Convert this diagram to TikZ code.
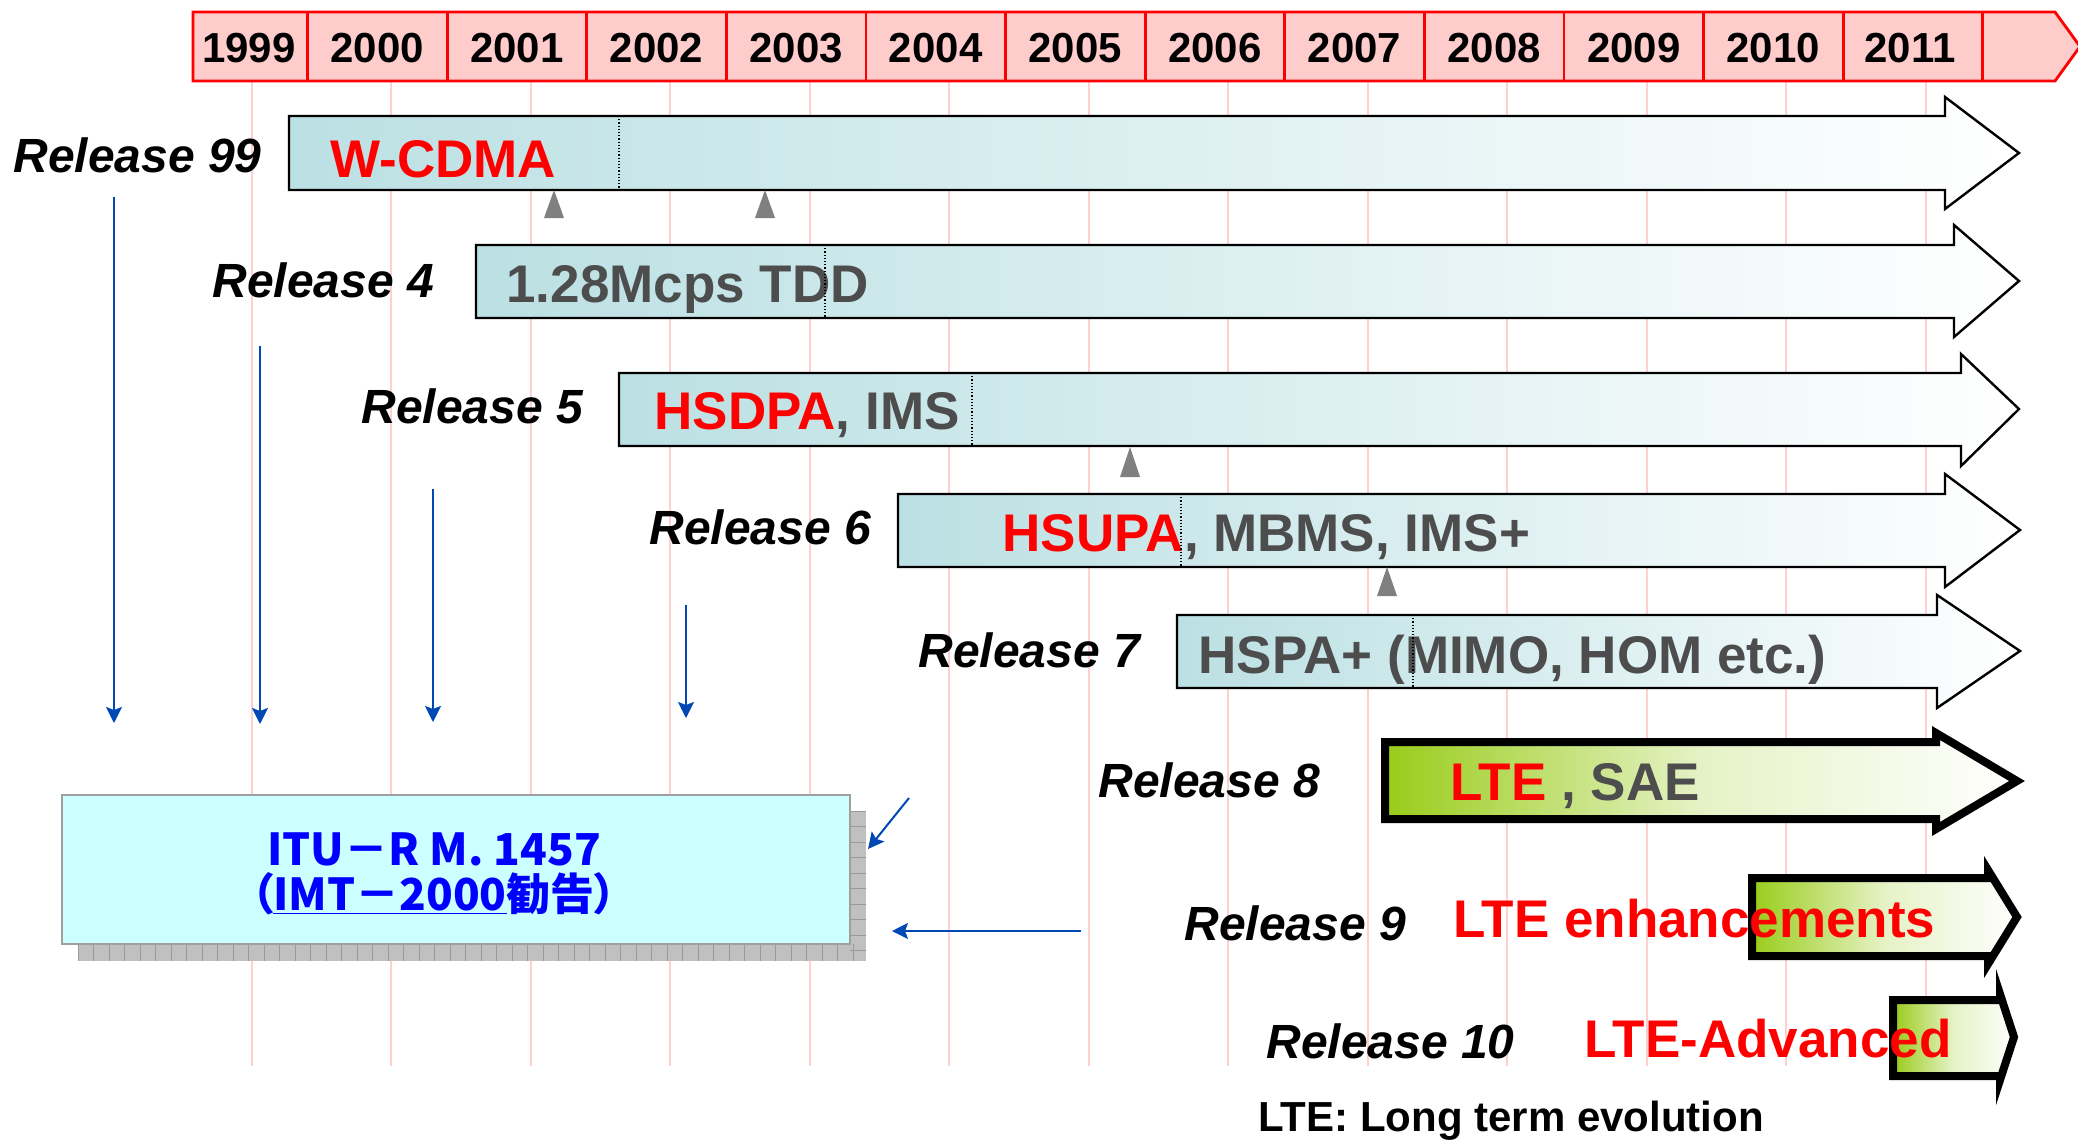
\documentclass[tikz,border=0pt]{standalone}
\usepackage{fontspec}
\setmainfont{Liberation Sans}
\newfontfamily\jpfont[RawFeature=+palt]{Noto Sans CJK JP}
\usetikzlibrary{arrows.meta, positioning, calc}
\definecolor{yearpink}{RGB}{255, 204, 204}
\definecolor{gridpink}{RGB}{255, 208, 208}
\definecolor{relteal}{RGB}{187, 224, 227}
\definecolor{ltegreen}{RGB}{153, 204, 26}
\definecolor{featgray}{RGB}{77, 77, 77}
\definecolor{itublue}{RGB}{0, 0, 255}
\definecolor{linkblue}{RGB}{0, 72, 180}
\definecolor{itucyan}{RGB}{204, 255, 255}
\definecolor{shadowgray}{RGB}{192, 192, 192}
\tikzset{
    yearband/.style={draw=red, line width=1.4pt, fill=yearpink},
    yeardiv/.style={red, line width=1.4pt},
    yeartext/.style={anchor=base, inner sep=0pt, font=\fontsize{21}{24}\selectfont\bfseries},
    gridline/.style={gridpink, line width=1pt},
    relarrow/.style={draw=black, line width=1.2pt, left color=relteal, right color=white},
    ltearrow/.style={draw=black, line width=4pt, left color=ltegreen, right color=white, middle color=ltegreen!25},
    rellabel/.style={anchor=base west, inner sep=0pt, font=\fontsize{24}{28}\selectfont\bfseries\itshape},
    feattext/.style={anchor=base west, inner sep=0pt, text=featgray, font=\fontsize{26.5}{30}\selectfont\bfseries},
    splitline/.style={densely dotted, line width=0.6pt},
    upmark/.style={fill=gray},
    itubox/.style={rectangle, draw=gray!75, line width=1pt, fill=itucyan,
                   minimum width=394pt, minimum height=74.5pt, inner sep=0pt},
    itutext/.style={anchor=base, inner sep=0pt, text=itublue, font=\jpfont\fontsize{22}{26}\selectfont\bfseries},
    shadowline/.style={gray!80, line width=0.4pt},
    notetext/.style={anchor=base west, inner sep=0pt, font=\fontsize{21}{24}\selectfont\bfseries},
    linkarrow/.style={-{Stealth[length=8pt, width=8pt, inset=1.5pt]}, linkblue, line width=1pt},
}

\begin{document}
\begin{tikzpicture}[x=0.5pt, y=-0.5pt]
            \useasboundingbox (0,0) rectangle (2078,1140);

            % Year grid
            \foreach \k in {0,...,12}
                \draw[gridline] ({251.7+139.5*\k},81) -- ({251.7+139.5*\k},1066);

            % Year band
            \draw[yearband] (193,12) -- (2055,12) -- (2080,46.5) -- (2055,81) -- (193,81) -- cycle;
            \foreach \k in {0,...,12}
                \draw[yeardiv] ({307.5+139.6*\k},12) -- ({307.5+139.6*\k},81);
            \node[yeartext] (y1999) at (249,62) {1999};
            \node[yeartext] (y2000) at (377.3,62) {2000};
            \node[yeartext] (y2001) at (516.9,62) {2001};
            \node[yeartext] (y2002) at (656.5,62) {2002};
            \node[yeartext] (y2003) at (796.1,62) {2003};
            \node[yeartext] (y2004) at (935.7,62) {2004};
            \node[yeartext] (y2005) at (1075.3,62) {2005};
            \node[yeartext] (y2006) at (1214.9,62) {2006};
            \node[yeartext] (y2007) at (1354.5,62) {2007};
            \node[yeartext] (y2008) at (1494.1,62) {2008};
            \node[yeartext] (y2009) at (1633.7,62) {2009};
            \node[yeartext] (y2010) at (1773.3,62) {2010};
            \node[yeartext] (y2011) at (1910,62) {2011};

            % Release arrows
            \draw[relarrow] (289,116) -- (1945,116) -- (1945,97) -- (2019,153) -- (1945,209) -- (1945,190) -- (289,190) -- cycle;
            \draw[relarrow] (476,245) -- (1954,245) -- (1954,225) -- (2019,281) -- (1954,337) -- (1954,318) -- (476,318) -- cycle;
            \draw[relarrow] (619,373) -- (1961,373) -- (1961,354) -- (2019,409) -- (1961,466) -- (1961,446) -- (619,446) -- cycle;
            \draw[relarrow] (898,494) -- (1945,494) -- (1945,474) -- (2020,530) -- (1945,587) -- (1945,567) -- (898,567) -- cycle;
            \draw[relarrow] (1177,615) -- (1937,615) -- (1937,595) -- (2020,651) -- (1937,708) -- (1937,688) -- (1177,688) -- cycle;
            \draw[ltearrow] (1385,742) -- (1936,742) -- (1936,733) -- (2017,781) -- (1936,829) -- (1936,819) -- (1385,819) -- cycle;
            \draw[ltearrow] (1752,878) -- (1988,878) -- (1988,870) -- (2017,917) -- (1988,964) -- (1988,956) -- (1752,956) -- cycle;
            \draw[ltearrow] (1893,1000) -- (2000,1000) -- (2000,994) -- (2014,1037) -- (2000,1080) -- (2000,1076) -- (1893,1076) -- cycle;

            % Markers
            \fill[upmark] (554,190) -- (564,218) -- (544,218) -- cycle;
            \fill[upmark] (765,190) -- (775,218) -- (755,218) -- cycle;
            \fill[upmark] (1130,447) -- (1140,477) -- (1120,477) -- cycle;
            \fill[upmark] (1387,567) -- (1397,596) -- (1377,596) -- cycle;

            % Features
            \node[feattext, text=red] (f99) at (330,177) {W-CDMA};
            \node[feattext] (f4) at (506,302) {1.28Mcps TDD};
            \node[feattext] (f5) at (654,429) {\textcolor{red}{HSDPA}, IMS};
            \node[feattext] (f6) at (1002,551) {\textcolor{red}{HSUPA}, MBMS, IMS+};
            \node[feattext] (f7) at (1198,673) {HSPA+ (MIMO, HOM etc.)};
            \node[feattext] (f8) at (1450,800) {\textcolor{red}{LTE} , SAE};
            \node[feattext, text=red] (f9) at (1453,937) {LTE enhancements};
            \node[feattext, text=red] (f10) at (1584,1057) {LTE-Advanced};

            \draw[splitline] (619,116) -- (619,190);
            \draw[splitline] (825,245) -- (825,318);
            \draw[splitline] (972,373) -- (972,446);
            \draw[splitline] (1181,494) -- (1181,567);
            \draw[splitline] (1413,615) -- (1413,688);

            % Release labels
            \node[rellabel] (r99) at (13,172) {Release 99};
            \node[rellabel] (r4) at (212,297) {Release 4};
            \node[rellabel] (r5) at (361,423) {Release 5};
            \node[rellabel] (r6) at (649,544) {Release 6};
            \node[rellabel] (r7) at (918,667) {Release 7};
            \node[rellabel] (r8) at (1098,797) {Release 8};
            \node[rellabel] (r9) at (1184,940) {Release 9};
            \node[rellabel] (r10) at (1266,1058) {Release 10};

            % ITU box
            \fill[shadowgray] (78,811) rectangle (866,961);
            \foreach \k in {0,...,50}
                \draw[shadowline] ({78+15.5*\k},944) -- ({78+15.5*\k},961);
            \foreach \k in {0,...,9}
                \draw[shadowline] (850,{811+15.5*\k}) -- (866,{811+15.5*\k});
            \node[itubox] (itu) at (456,869.5) {};
            \node[itutext] (itua) at (434,865) {ITU－R M. 1457};
            \node[itutext] (itub) at (434,910) {（\underline{IMT－2000}勧告）};

            % Links to ITU
            \coordinate (s99) at (114,197);   \coordinate (e99) at (114,723);
            \coordinate (s4) at (260,346);    \coordinate (e4) at (260,724);
            \coordinate (s5) at (433,489);    \coordinate (e5) at (433,722);
            \coordinate (s6) at (686,605);    \coordinate (e6) at (686,718);
            \coordinate (s7) at (909,798);    \coordinate (e7) at (868,849);
            \coordinate (s8) at (1081,931);   \coordinate (e8) at (892,931);
            \draw[linkarrow] (s99) -- (e99);
            \draw[linkarrow] (s4) -- (e4);
            \draw[linkarrow] (s5) -- (e5);
            \draw[linkarrow] (s6) -- (e6);
            \draw[linkarrow] (s7) -- (e7);
            \draw[linkarrow] (s8) -- (e8);

            % Note
            \node[notetext] (ltenote) at (1258,1131) {LTE: Long term evolution};
        \end{tikzpicture}
\end{document}
